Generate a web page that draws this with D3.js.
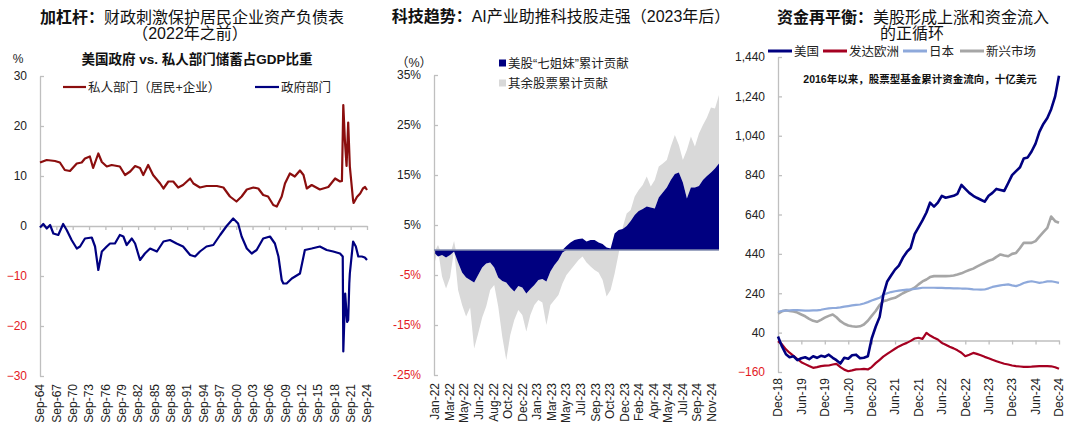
<!DOCTYPE html>
<html><head><meta charset="utf-8">
<script src="https://cdn.jsdelivr.net/npm/d3@7"></script>
<style>
html,body{margin:0;padding:0;background:#fff;}
svg{display:block;font-family:"Liberation Sans","Noto Sans CJK SC",sans-serif;}
</style></head>
<body>
<svg id="c" width="1080" height="430"></svg>
<script>
// ---------- Panel 1: savings % GDP ----------
const savTickLabels = ["Sep-64","Sep-67","Sep-70","Sep-73","Sep-76","Sep-79","Sep-82","Sep-85","Sep-88","Sep-91","Sep-94","Sep-97","Sep-00","Sep-03","Sep-06","Sep-09","Sep-12","Sep-15","Sep-18","Sep-21","Sep-24"];
const savTickYears = [1964.75,1967.75,1970.75,1973.75,1976.75,1979.75,1982.75,1985.75,1988.75,1991.75,1994.75,1997.75,2000.75,2003.75,2006.75,2009.75,2012.75,2015.75,2018.75,2021.75,2024.75];
const savYTicks = [-30,-20,-10,0,10,20,30];
const privYears = [1964.75,1965.98,1967.5,1968.4,1969.3,1970.25,1971.5,1972.4,1973.0,1973.9,1974.5,1975.45,1976.1,1977.0,1977.9,1979.4,1980.35,1981.3,1982.2,1983.1,1983.7,1984.6,1985.5,1986.8,1987.4,1988.3,1989.2,1990.1,1991.0,1992.3,1992.9,1994.1,1995.3,1997.2,1998.4,1999.6,2000.8,2001.75,2002.7,2003.9,2004.8,2005.7,2006.6,2007.55,2008.2,2009.1,2009.7,2010.6,2011.5,2012.45,2013.1,2013.7,2014.6,2016.1,2017.65,2018.9,2019.8,2020.15,2020.4,2020.7,2021.0,2021.3,2021.6,2022.2,2022.3,2022.9,2023.5,2024.0,2024.4,2024.75];
const privVals = [12.7,13.2,13.0,12.7,11.2,11.0,12.5,12.7,13.5,13.9,11.6,14.5,12.8,11.9,12.2,11.9,10.2,10.9,12.0,11.6,10.2,12.2,10.2,8.5,7.5,8.9,8.9,7.7,8.2,9.5,8.5,7.7,8.0,8.0,7.7,5.9,4.9,5.9,7.3,7.7,7.5,6.2,5.9,4.2,3.9,5.9,8.5,10.5,9.9,11.1,10.2,7.5,8.2,7.3,7.8,9.5,8.9,9.0,24.2,17.0,12.0,20.7,11.9,5.1,4.6,5.8,6.5,7.5,7.8,7.2];
const govYears = [1964.75,1965.35,1966.0,1966.6,1967.2,1968.1,1969.0,1969.65,1970.55,1971.5,1972.1,1973.0,1974.25,1974.85,1975.45,1976.1,1977.0,1977.6,1978.5,1979.4,1980.05,1980.65,1981.6,1982.2,1983.1,1984.0,1984.95,1986.2,1987.4,1988.6,1989.8,1991.0,1992.3,1993.2,1994.1,1995.3,1996.55,1997.8,1999.0,2000.2,2001.1,2001.75,2002.7,2003.6,2004.5,2005.7,2006.95,2007.85,2008.5,2009.1,2009.4,2010.0,2010.95,2012.15,2012.45,2013.35,2014.6,2016.1,2017.35,2018.55,2019.8,2020.3,2020.4,2020.75,2021.1,2021.3,2021.5,2021.6,2022.2,2022.7,2023.15,2023.8,2024.35,2024.75];
const govVals = [-0.3,0.4,-0.5,0.2,-1.5,-1.8,0.4,-0.8,-2.8,-4.5,-4.1,-2.5,-2.3,-4.1,-8.8,-5.1,-4.1,-3.5,-3.5,-1.8,-2.1,-3.8,-2.5,-3.5,-6.8,-5.5,-4.5,-5.1,-3.1,-2.8,-3.5,-4.1,-5.8,-6.1,-5.1,-4.1,-3.8,-1.8,0.0,1.5,0.5,-2.1,-4.5,-5.5,-4.8,-2.5,-2.1,-3.5,-6.1,-10.8,-11.5,-11.5,-10.5,-9.7,-9.5,-4.8,-4.5,-4.1,-4.8,-5.1,-5.5,-6.1,-25.1,-13.5,-19.2,-18.8,-11.5,-9.5,-3.1,-4.1,-6.1,-6.1,-6.3,-6.8];

// ---------- Panel 2: tech contribution ----------
const techLabels = ["Jan-22","Mar-22","May-22","Jun-22","Aug-22","Oct-22","Dec-22","Jan-23","Mar-23","May-23","Jul-23","Sep-23","Oct-23","Dec-23","Feb-24","Apr-24","May-24","Jul-24","Sep-24","Nov-24"];
const techYTicks = [-25,-15,-5,5,15,25,35];
const sevenVals = [-0.5,-1.3,-1.0,-1.5,-1.0,-0.3,-2.5,-4.5,-5.5,-6.0,-6.5,-5.0,-3.5,-2.7,-2.5,-3.5,-5.5,-6.2,-6.5,-7.5,-8.3,-7.2,-7.5,-8.7,-7.8,-7.0,-6.0,-5.8,-6.3,-4.3,-3.0,-2.0,-0.5,0.8,1.5,2.0,2.2,2.3,1.7,2.0,2.0,1.5,1.2,0.5,0.3,3.3,4.0,4.2,4.8,5.8,7.0,7.8,8.2,8.7,8.5,8.3,10.5,11.5,12.5,14.0,15.2,15.5,13.5,10.3,12.5,12.5,12.8,14.0,14.8,15.5,16.3,17.3];
const otherVals = [-2.5,1.0,-4.3,-6.2,-4.5,1.8,-5.5,-6.5,-7.8,-5.5,-13.2,-11.7,-10.0,-8.6,-5.5,-3.5,-5.8,-11.1,-15.5,-9.5,-5.7,-4.8,-5.5,-7.6,-5.2,-4.0,-4.0,-4.7,-8.7,-6.7,-7.0,-7.0,-6.2,-5.0,-4.0,-3.0,-2.0,-1.3,-2.5,-3.3,-4.0,-4.5,-6.0,-9.3,-8.0,-4.7,-0.7,0.3,2.5,2.2,3.7,4.2,4.8,6.0,4.2,5.7,6.2,5.8,5.5,6.7,7.8,5.5,4.5,9.7,10.2,8.2,10.5,11.0,11.7,13.0,12.0,13.7];

// ---------- Panel 3: fund flows (monthly from Dec-18) ----------
const flowTickLabels = ["Dec-18","Jun-19","Dec-19","Jun-20","Dec-20","Jun-21","Dec-21","Jun-22","Dec-22","Jun-23","Dec-23","Jun-24","Dec-24"];
const flowYTicks = [-160,40,240,440,640,840,1040,1240,1440];
const usFlow = [20,-30,-70,-85,-80,-100,-90,-85,-95,-80,-88,-78,-83,-72,-88,-100,-117,-88,-93,-75,-72,-90,-88,-80,10,70,120,230,300,330,360,380,420,450,470,540,575,610,650,700,680,700,735,725,730,735,745,790,770,750,735,725,715,705,735,750,770,765,760,800,840,860,880,925,930,960,1000,1060,1100,1130,1175,1240,1345];
const euFlow = [-3,-20,-45,-62,-78,-95,-110,-120,-130,-139,-135,-130,-128,-127,-122,-119,-135,-148,-156,-152,-147,-146,-144,-147,-135,-115,-98,-82,-68,-55,-42,-30,-20,-12,-2,10,14,8,39,25,14,5,-12,-22,-32,-40,-50,-62,-80,-72,-63,-68,-75,-83,-90,-98,-105,-112,-118,-122,-127,-130,-132,-134,-134,-133,-131,-130,-130,-130,-131,-136,-144];
const jpFlow = [146,150,152,153,155,154,153,152,152,153,153,156,160,163,165,166,168,172,175,178,181,183,188,195,203,210,217,232,240,246,250,253,256,258,259,262,265,268,268,268,268,267,267,266,266,265,265,264,264,262,260,259,258,259,265,272,276,280,283,285,280,276,283,292,298,301,297,293,296,300,301,297,293];
const emFlow = [136,148,154,150,147,142,132,123,110,100,95,105,116,125,132,118,98,85,76,72,70,72,81,100,125,150,180,200,205,212,217,228,240,250,258,268,285,300,310,322,327,327,327,327,328,330,335,341,350,358,365,375,385,395,405,411,425,437,432,428,440,445,470,496,496,496,505,528,550,572,630,606,598];

const FONT = '"Liberation Sans","Noto Sans CJK SC",sans-serif';
const RED_LABEL = "#E3191E";
const AXIS_GRAY = "#BFBFBF";
const svg = d3.select("#c");

function title(x, y, bold, rest, size) {
  const t = svg.append("text").attr("x", x).attr("y", y).attr("text-anchor", "middle")
    .attr("font-size", size).attr("fill", "#111");
  t.append("tspan").attr("font-weight", "bold").text(bold);
  if (rest) t.append("tspan").text(rest);
  return t;
}
function yAxisInward(g, scale, ticks, fmt, pad) {
  const ax = d3.axisLeft(scale).tickValues(ticks).tickSizeInner(-4).tickSizeOuter(0).tickPadding(pad).tickFormat(fmt);
  g.call(ax);
  g.select(".domain").attr("stroke", AXIS_GRAY).attr("stroke-width", 1.3);
  g.selectAll(".tick line").attr("stroke", AXIS_GRAY).attr("stroke-width", 1.3);
  g.selectAll(".tick text").attr("font-size", 12).attr("font-family", FONT)
    .attr("fill", d => d < 0 ? RED_LABEL : "#222");
}
function rotLabels(labels, xs, yTop) {
  labels.forEach((s, i) => {
    svg.append("text").attr("transform", `translate(${xs[i]},${yTop}) rotate(-90)`)
      .attr("text-anchor", "end").attr("dy", "0.36em").attr("font-size", 12).attr("fill", "#222").text(s);
  });
}

// ================= PANEL 1 =================
title(192, 23, "加杠杆：", "财政刺激保护居民企业资产负债表", 16);
svg.append("text").attr("x", 190).attr("y", 39).attr("text-anchor", "middle").attr("font-size", 16).attr("fill", "#111").text("（2022年之前）");
svg.append("text").attr("x", 197).attr("y", 63.5).attr("text-anchor", "middle").attr("font-size", 13.5).attr("font-weight", "bold").attr("fill", "#111").text("美国政府 vs. 私人部门储蓄占GDP比重");
svg.append("text").attr("x", 18).attr("y", 63).attr("text-anchor", "middle").attr("font-size", 12).attr("fill", "#222").text("%");

const xL = d3.scaleLinear([1964.75, 2024.75], [40, 367]);
const yL = d3.scaleLinear([-30, 30], [376, 76]);
yAxisInward(svg.append("g").attr("transform", "translate(40,0)"), yL, savYTicks, d3.format("d"), 13);
{
  const g = svg.append("g").attr("transform", `translate(0,${yL(0)})`);
  g.call(d3.axisBottom(xL).tickValues(savTickYears).tickSizeInner(4).tickSizeOuter(0).tickFormat(""));
  g.select(".domain").attr("stroke", AXIS_GRAY).attr("stroke-width", 1.3);
  g.selectAll(".tick line").attr("stroke", AXIS_GRAY).attr("stroke-width", 1.3);
}
rotLabels(savTickLabels, savTickYears.map(xL), 384);

const lineL = d3.line().x(d => xL(d[0])).y(d => yL(d[1]));
svg.append("path").attr("d", lineL(privYears.map((y, i) => [y, privVals[i]])))
  .attr("fill", "none").attr("stroke", "#8B0E0E").attr("stroke-width", 2.2).attr("stroke-linejoin", "round");
svg.append("path").attr("d", lineL(govYears.map((y, i) => [y, govVals[i]])))
  .attr("fill", "none").attr("stroke", "#000080").attr("stroke-width", 2.2).attr("stroke-linejoin", "round");

// legend
svg.append("line").attr("x1", 63).attr("x2", 86).attr("y1", 87).attr("y2", 87).attr("stroke", "#8B0E0E").attr("stroke-width", 2.2);
svg.append("text").attr("x", 88).attr("y", 91.5).attr("font-size", 12.5).attr("fill", "#222").text("私人部门（居民+企业）");
svg.append("line").attr("x1", 255).attr("x2", 279).attr("y1", 87).attr("y2", 87).attr("stroke", "#000080").attr("stroke-width", 2.2);
svg.append("text").attr("x", 281).attr("y", 91.5).attr("font-size", 12.5).attr("fill", "#222").text("政府部门");

// ================= PANEL 2 =================
title(561, 22, "科技趋势：", "AI产业助推科技股走强（2023年后）", 16);
svg.append("text").attr("x", 432).attr("y", 67).attr("text-anchor", "end").attr("font-size", 12.5).attr("fill", "#222").text("（%）");

const nT = sevenVals.length;
const xM = d3.scaleLinear([0, nT - 1], [434, 719]);
const yM = d3.scaleLinear([-25, 35], [375, 75]);
const techRows = sevenVals.map((v, i) => ({ i, seven: v, others: otherVals[i] }));
const stacked = d3.stack().keys(["seven", "others"]).offset(d3.stackOffsetDiverging)(techRows);
const techColors = { seven: "#000080", others: "#D9D9D9" };
const areaM = d3.area().x(d => xM(d.data.i)).y0(d => yM(d[0])).y1(d => yM(d[1]));
// others (gray) first, seven (navy) on top
[stacked[1], stacked[0]].forEach(layer => {
  svg.append("path").attr("d", areaM(layer)).attr("fill", techColors[layer.key]);
});
yAxisInward(svg.append("g").attr("transform", "translate(434,0)"), yM, techYTicks, d => d + "%", 13);
svg.append("line").attr("x1", xM(0)).attr("x2", xM(nT - 1)).attr("y1", yM(0)).attr("y2", yM(0)).attr("stroke", "#7F8AAE").attr("stroke-width", 1.3);
const xTickM = d3.scalePoint().domain(techLabels).range([435, 711.7]);
rotLabels(techLabels, techLabels.map(xTickM), 383);

svg.append("rect").attr("x", 499).attr("y", 59.5).attr("width", 7).attr("height", 7).attr("fill", "#000080");
svg.append("text").attr("x", 508).attr("y", 67.5).attr("font-size", 12.5).attr("fill", "#222").text("美股“七姐妹”累计贡献");
svg.append("rect").attr("x", 499).attr("y", 79.5).attr("width", 7).attr("height", 7).attr("fill", "#D9D9D9");
svg.append("text").attr("x", 508).attr("y", 87.5).attr("font-size", 12.5).attr("fill", "#222").text("其余股票累计贡献");

// ================= PANEL 3 =================
title(913, 23, "资金再平衡：", "美股形成上涨和资金流入", 16);
svg.append("text").attr("x", 912).attr("y", 39).attr("text-anchor", "middle").attr("font-size", 16).attr("fill", "#111").text("的正循环");

const t0 = new Date(2018, 11, 1), t1 = new Date(2024, 11, 1);
const xR = d3.scaleTime([t0, t1], [778, 1059]);
const yR = d3.scaleLinear([-160, 1440], [372, 57]);
const monthDate = i => d3.timeMonth.offset(t0, i);
yAxisInward(svg.append("g").attr("transform", "translate(778,0)"), yR, flowYTicks, d3.format(","), 13);
const flowTickDates = flowTickLabels.map((s, i) => d3.timeMonth.offset(t0, 6 * i));
{
  const g = svg.append("g").attr("transform", `translate(0,${yR(0)})`);
  g.call(d3.axisBottom(xR).tickValues(flowTickDates).tickSizeInner(4).tickSizeOuter(0).tickFormat(""));
  g.select(".domain").attr("stroke", AXIS_GRAY).attr("stroke-width", 1.3);
  g.selectAll(".tick line").attr("stroke", AXIS_GRAY).attr("stroke-width", 1.3);
}
rotLabels(flowTickLabels, flowTickDates.map(xR), 378);

const lineR = d3.line().x((d, i) => xR(monthDate(i))).y(d => yR(d));
const flowSeries = [
  { vals: emFlow, color: "#A6A6A6", w: 2.6 },
  { vals: jpFlow, color: "#8EA9DB", w: 2.2 },
  { vals: euFlow, color: "#A50021", w: 2.2 },
  { vals: usFlow, color: "#000080", w: 2.6 }
];
flowSeries.forEach(s => {
  svg.append("path").attr("d", lineR(s.vals)).attr("fill", "none").attr("stroke", s.color)
    .attr("stroke-width", s.w).attr("stroke-linejoin", "round");
});
svg.append("text").attr("x", 920).attr("y", 83).attr("text-anchor", "middle").attr("font-size", 10.5).attr("font-weight", "bold").attr("fill", "#111").text("2016年以来，股票型基金累计资金流向，十亿美元");

const legR = [
  { x: 768, label: "美国", color: "#000080" },
  { x: 823, label: "发达欧洲", color: "#A50021" },
  { x: 903, label: "日本", color: "#8EA9DB" },
  { x: 960, label: "新兴市场", color: "#A6A6A6" }
];
legR.forEach(l => {
  svg.append("line").attr("x1", l.x).attr("x2", l.x + 24).attr("y1", 51).attr("y2", 51).attr("stroke", l.color).attr("stroke-width", 3);
  svg.append("text").attr("x", l.x + 26).attr("y", 55.5).attr("font-size", 12.5).attr("fill", "#222").text(l.label);
});
</script>
</body></html>
